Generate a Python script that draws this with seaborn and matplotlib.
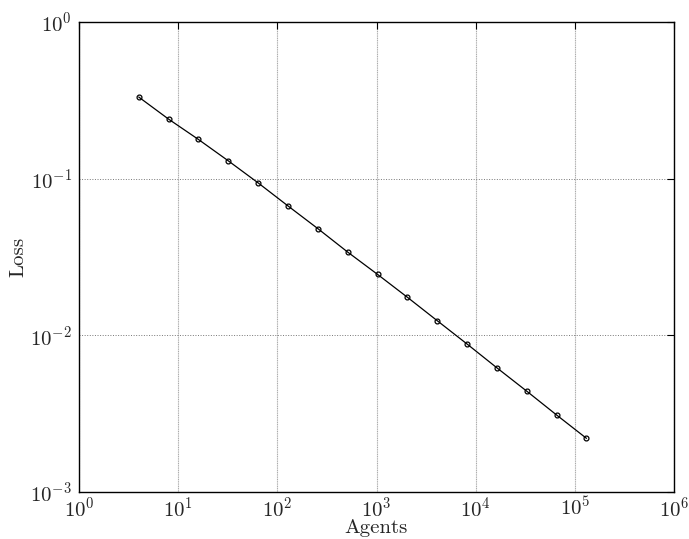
import matplotlib
matplotlib.use("Agg")
import matplotlib.pyplot as plt
import seaborn as sns
import pandas as pd
from matplotlib.ticker import LogLocator, NullLocator

agents = [4, 8, 16, 32, 64, 128, 256, 512, 1024, 2048, 4096, 8192, 16384, 32768, 65536, 131072]
loss = [0.332, 0.240, 0.178, 0.130, 0.094, 0.067, 0.048, 0.034, 0.0245, 0.0175,
        0.0124, 0.0088, 0.0062, 0.0044, 0.0031, 0.0022]

sns.set_style("white")
plt.rcParams['font.family'] = ['cmr10', 'DejaVu Serif']
plt.rcParams['mathtext.fontset'] = 'cm'
plt.rcParams['axes.formatter.use_mathtext'] = True

df = pd.DataFrame({"Agents": agents, "Loss": loss})

fig = plt.figure(figsize=(6.89, 5.39), dpi=100)
ax = fig.add_axes([79/689, 1-492/539, (674-79)/689, (492-22)/539])

sns.lineplot(data=df, x="Agents", y="Loss", ax=ax, color="black", linewidth=0.9,
             marker="o", markersize=3.5, markerfacecolor="none",
             markeredgecolor="black", markeredgewidth=0.9)

ax.set_xscale("log")
ax.set_yscale("log")
ax.set_xlim(1, 1e6)
ax.set_ylim(1e-3, 1)
ax.xaxis.set_major_locator(LogLocator(base=10, numticks=10))
ax.yaxis.set_major_locator(LogLocator(base=10, numticks=10))
ax.xaxis.set_minor_locator(NullLocator())
ax.yaxis.set_minor_locator(NullLocator())

ax.xaxis.grid(True, which="major", color="#aaaaaa", linestyle=(0, (1, 0.6)), linewidth=0.8)
ax.yaxis.grid(True, which="major", color="#777777", linestyle=":", linewidth=0.7)
ax.tick_params(axis="both", which="major", direction="in", length=5, width=0.8,
               top=True, right=True, labelsize=15, pad=3, color="black")
ax.tick_params(axis="y", pad=5)
for s in ax.spines.values():
    s.set_color("black")
    s.set_linewidth(1.0)

ax.set_xlabel("Agents", fontsize=15, labelpad=-1)
ax.set_ylabel("Loss", fontsize=15, labelpad=2)

fig.savefig("out.png", dpi=100)
